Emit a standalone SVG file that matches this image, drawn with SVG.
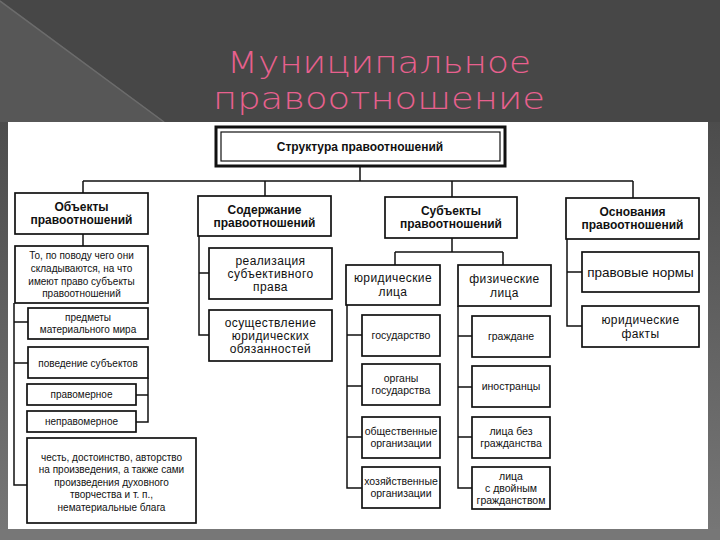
<svg xmlns="http://www.w3.org/2000/svg" width="720" height="540" viewBox="0 0 720 540">
<defs>
<linearGradient id="side" x1="0" y1="0" x2="0" y2="1">
<stop offset="0" stop-color="#4c4c4c"/>
<stop offset="1" stop-color="#777"/>
</linearGradient>
</defs>
<style>
.box{fill:#fff;stroke:#111;stroke-width:1.7}
.ln{fill:none;stroke:#111;stroke-width:1.5}
.h{font-family:"Liberation Sans",Arial,sans-serif;font-weight:bold;font-size:12px;fill:#111;text-anchor:middle}
.m{font-family:"Liberation Sans",Arial,sans-serif;font-size:12px;letter-spacing:0.4px;fill:#111;text-anchor:middle}
.m1{font-family:"Liberation Sans",Arial,sans-serif;font-size:13.5px;fill:#111;text-anchor:middle}
.s{font-family:"Liberation Sans",Arial,sans-serif;font-size:10px;fill:#111;text-anchor:middle}
.s2{font-family:"Liberation Sans",Arial,sans-serif;font-size:10.5px;fill:#111;text-anchor:middle}
.t{font-family:"DejaVu Sans",sans-serif;font-weight:200;font-size:31px;fill:#e8608e;text-anchor:middle}
</style>
<!-- background -->
<rect width="720" height="540" fill="#474747"/>
<polygon points="0,0 165,122 0,122" fill="#575757"/>
<line x1="0" y1="1" x2="164" y2="122" stroke="#6c6c6c" stroke-width="1.5"/>
<rect x="0" y="122" width="8" height="418" fill="url(#side)"/>
<rect x="708" y="122" width="12" height="418" fill="url(#side)"/>
<rect x="0" y="529" width="720" height="11" fill="#777"/>
<rect x="8" y="122" width="700" height="407" fill="#fff"/>
<!-- title -->
<text class="t" x="379" y="73" textLength="304" lengthAdjust="spacingAndGlyphs">Муниципальное</text>
<text class="t" x="379" y="109" textLength="332" lengthAdjust="spacingAndGlyphs">правоотношение</text>

<g id="connectors" class="ln">
<path d="M360 166V181M83 181H633M83 181V193M265 181V196M452 181V197M633 181V198"/>
<path d="M83 234V246"/>
<path d="M14 303V485H27M14 322H28M14 363H28"/>
<path d="M148 378V422H136M136 395H148"/>
<path d="M199 236V335H209M199 273H209"/>
<path d="M452 238V252M395 252H503M395 252V265M503 252V265"/>
<path d="M347 305V488H362M347 335H362M347 386H362M347 437H362"/>
<path d="M458 306V488H472M458 336H472M458 387H472M458 437H472"/>
<path d="M567 239V326H582M567 272H582"/>
</g>

<g id="root">
<rect x="216" y="127" width="289" height="39" fill="#fff" stroke="#111" stroke-width="3"/>
<rect x="221" y="132" width="279" height="29" fill="none" stroke="#111" stroke-width="1.2"/>
<text class="h" x="360" y="151">Структура правоотношений</text>
</g>

<g id="objects">
<rect class="box" x="15" y="193" width="133" height="41"/>
<text class="h" x="81.5" y="211">Объекты</text>
<text class="h" x="81.5" y="224">правоотношений</text>
</g>
<g id="content">
<rect class="box" x="198" y="196" width="133" height="40"/>
<text class="h" x="264.5" y="213.5">Содержание</text>
<text class="h" x="264.5" y="226.5">правоотношений</text>
</g>
<g id="subjects">
<rect class="box" x="385" y="197" width="132" height="41"/>
<text class="h" x="451" y="215">Субъекты</text>
<text class="h" x="451" y="228">правоотношений</text>
</g>
<g id="grounds">
<rect class="box" x="566" y="198" width="133" height="41"/>
<text class="h" x="632.5" y="216">Основания</text>
<text class="h" x="632.5" y="229">правоотношений</text>
</g>

<g id="obj-def">
<rect class="box" x="15" y="246" width="133" height="57"/>
<text class="s" x="81.5" y="259">То, по поводу чего они</text>
<text class="s" x="81.5" y="272">складываются, на что</text>
<text class="s" x="81.5" y="284.5">имеют право субъекты</text>
<text class="s" x="81.5" y="297">правоотношений</text>
</g>
<g id="obj-material">
<rect class="box" x="28" y="308" width="120" height="31"/>
<text class="s" x="88" y="320.5">предметы</text>
<text class="s" x="88" y="332.5">материального мира</text>
</g>
<g id="obj-behaviour">
<rect class="box" x="28" y="347" width="120" height="31"/>
<text class="s" x="88" y="366.5">поведение субъектов</text>
</g>
<g id="obj-lawful">
<rect class="box" x="27" y="384" width="109" height="21"/>
<text class="s" x="81.5" y="398">правомерное</text>
</g>
<g id="obj-unlawful">
<rect class="box" x="27" y="411" width="109" height="21"/>
<text class="s" x="81.5" y="425">неправомерное</text>
</g>
<g id="obj-nonmaterial">
<rect class="box" x="27" y="438" width="169" height="85"/>
<text class="s" x="111.5" y="460.5">честь, достоинство, авторство</text>
<text class="s" x="111.5" y="473">на произведения, а также сами</text>
<text class="s" x="111.5" y="485.5">произведения духовного</text>
<text class="s" x="111.5" y="498">творчества и т. п.,</text>
<text class="s" x="111.5" y="510.5">нематериальные блага</text>
</g>

<g id="cont-right">
<rect class="box" x="209" y="248" width="123" height="51"/>
<text class="m" x="270.5" y="264.5">реализация</text>
<text class="m" x="270.5" y="277.5">субъективного</text>
<text class="m" x="270.5" y="290.5">права</text>
</g>
<g id="cont-duty">
<rect class="box" x="209" y="310" width="123" height="51"/>
<text class="m" x="270.5" y="326.5">осуществление</text>
<text class="m" x="270.5" y="339.5">юридических</text>
<text class="m" x="270.5" y="352.5">обязанностей</text>
</g>

<g id="legal">
<rect class="box" x="346" y="265" width="94" height="40"/>
<text class="m" x="393" y="282">юридические</text>
<text class="m" x="393" y="296">лица</text>
</g>
<g id="natural">
<rect class="box" x="458" y="265" width="93" height="41"/>
<text class="m" x="504.5" y="282.5">физические</text>
<text class="m" x="504.5" y="296.5">лица</text>
</g>

<g id="state">
<rect class="box" x="362" y="315" width="78" height="41"/>
<text class="s2" x="401" y="339">государство</text>
</g>
<g id="state-bodies">
<rect class="box" x="362" y="364" width="78" height="41"/>
<text class="s2" x="401" y="382">органы</text>
<text class="s2" x="401" y="394">государства</text>
</g>
<g id="public-org">
<rect class="box" x="362" y="417" width="78" height="41"/>
<text class="s2" x="401" y="435">общественные</text>
<text class="s2" x="401" y="447">организации</text>
</g>
<g id="business-org">
<rect class="box" x="362" y="467" width="78" height="41"/>
<text class="s2" x="401" y="485">хозяйственные</text>
<text class="s2" x="401" y="497">организации</text>
</g>

<g id="citizens">
<rect class="box" x="472" y="316" width="78" height="41"/>
<text class="s2" x="511" y="340">граждане</text>
</g>
<g id="foreigners">
<rect class="box" x="472" y="366" width="78" height="41"/>
<text class="s2" x="511" y="390">иностранцы</text>
</g>
<g id="stateless">
<rect class="box" x="472" y="417" width="78" height="41"/>
<text class="s2" x="511" y="435">лица без</text>
<text class="s2" x="511" y="447">гражданства</text>
</g>
<g id="dual">
<rect class="box" x="472" y="467" width="78" height="42"/>
<text class="s2" x="511" y="479.5">лица</text>
<text class="s2" x="511" y="491.5">с двойным</text>
<text class="s2" x="511" y="503.5">гражданством</text>
</g>

<g id="norms">
<rect class="box" x="582" y="252" width="117" height="40"/>
<text class="m1" x="640.5" y="276.5">правовые нормы</text>
</g>
<g id="facts">
<rect class="box" x="582" y="306" width="117" height="41"/>
<text class="m" x="640.5" y="323.5">юридические</text>
<text class="m" x="640.5" y="337.5">факты</text>
</g>
</svg>
